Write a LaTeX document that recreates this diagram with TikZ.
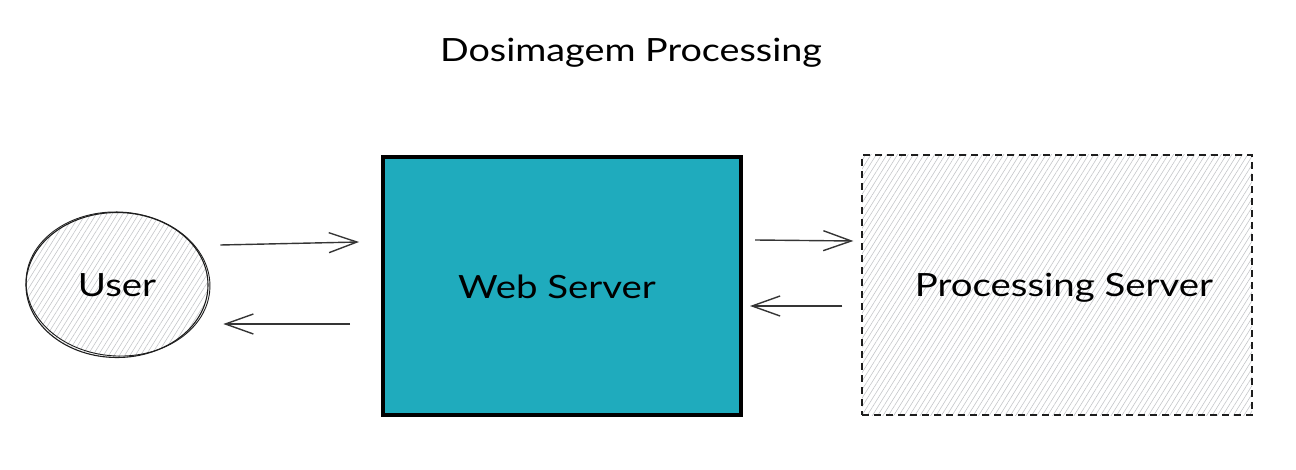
\documentclass[tikz,border=0pt]{standalone}
\usepackage{fontspec}
\setmainfont{Lato}
\usetikzlibrary{arrows.meta,patterns.meta,shapes.geometric,calc}
\definecolor{teal1}{HTML}{1FABBD}
\definecolor{inkc}{HTML}{1E1E1E}
\definecolor{hatchc}{HTML}{C4C6C9}
\tikzset{
  lbl/.style={font=\fontsize{32}{38}\selectfont, text=black},
  hatch/.style={pattern={Lines[angle=58,distance=4.5pt,line width=0.6pt]}, pattern color=hatchc},
  arr/.style={draw=inkc!90, line width=1.4pt, -{Straight Barb[length=28pt,width=20pt,line width=1.4pt]}},
}
\begin{document}
\begin{tikzpicture}[x=1pt,y=-1pt]
\useasboundingbox (0,0) rectangle (1296,470);
% title
\node[lbl, anchor=center] (title) at (631,53) {\scalebox{1.18}[1]{Dosimagem Processing}};
% user
\node[ellipse, draw=inkc, line width=1.1pt, hatch, minimum width=182pt, minimum height=145pt, inner sep=0pt] (user) at (117,285) {};
\draw[inkc, line width=0.9pt] (118,284) ellipse [x radius=92pt, y radius=72pt, rotate=-3];
\node[lbl] (userlbl) at (user.center) {\scalebox{1.2}[1]{User}};
% web server
\node[rectangle, draw=black, line width=4pt, fill=teal1, minimum width=358pt, minimum height=258pt, inner sep=0pt] (web) at (562,286) {};
\node[lbl] (weblbl) at (557,287) {\scalebox{1.2}[1]{Web Server}};
% processing server
\node[rectangle, draw=inkc, line width=1.3pt, dash pattern=on 7pt off 5pt, hatch, minimum width=390pt, minimum height=260pt, inner sep=0pt] (proc) at (1057,285) {};
\node[lbl] (proclbl) at (1064,288) {\scalebox{1.2}[1]{Processing Server}};
% arrows
\draw[arr] ([xshift=12pt,yshift=40pt]user.east) -- ([xshift=-22pt,yshift=44pt]web.west);
\draw[arr] ([xshift=-31pt,yshift=-38pt]web.west) -- ([xshift=15pt,yshift=-39pt]user.east);
\draw[arr] ([xshift=12pt,yshift=46pt]web.east) -- ([xshift=-8pt,yshift=44pt]proc.west);
\draw[arr] ([xshift=-19pt,yshift=-21pt]proc.west) -- ([xshift=7pt,yshift=-20pt]web.east);
\end{tikzpicture}
\end{document}
